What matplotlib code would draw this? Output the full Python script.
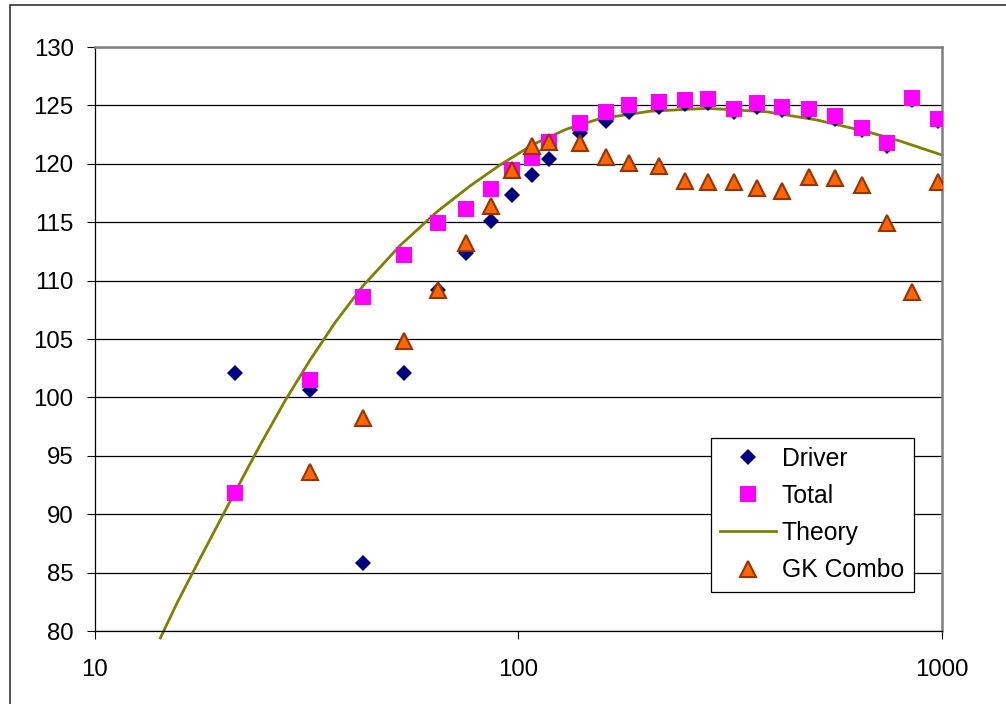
import matplotlib
matplotlib.use('Agg')
import matplotlib.pyplot as plt
from matplotlib.patches import Rectangle
from matplotlib.ticker import NullLocator

# ---- data ----
freq = [21.5, 32.3, 43.1, 53.8, 64.6, 75.4, 86.1, 96.9, 107.7, 118.4,
        140.0, 161.5, 183.0, 215.3, 247.6, 279.9, 323.0, 366.1, 419.9,
        484.5, 559.8, 645.9, 742.9, 850.5, 979.7]
driver = [102.1, 100.6, 85.8, 102.1, 109.2, 112.4, 115.1, 117.3, 119.0, 120.4,
          122.6, 123.7, 124.4, 124.9, 125.1, 125.2, 124.4, 124.9, 124.6,
          124.4, 123.8, 122.9, 121.5, 125.5, 123.7]
total = [91.8, 101.5, 108.6, 112.2, 114.9, 116.1, 117.8, 119.5, 120.5, 121.9,
         123.5, 124.4, 125.0, 125.3, 125.5, 125.55, 124.7, 125.2, 124.9,
         124.7, 124.1, 123.1, 121.8, 125.6, 123.8]
gk_freq = freq[1:]
gk_combo = [93.6, 98.2, 104.8, 109.2, 113.2, 116.4, 119.5, 121.5, 121.9,
            121.8, 120.6, 120.1, 119.8, 118.5, 118.4, 118.4, 117.9, 117.7,
            118.9, 118.8, 118.2, 114.9, 109.0, 118.4]
theory_freq = [14.3, 15.66, 17.74, 21.46, 24.58, 28.15, 32.26, 36.95, 43.02,
               52.6, 64.32, 76.93, 90.56, 108.3, 129.6, 155.9, 204.6, 278.9,
               386.5, 507.0, 665.3, 795.8, 1000.0]
theory = [79.4, 82.4, 86.2, 91.9, 95.9, 99.7, 103.2, 106.4, 109.55,
          113.0, 115.9, 118.1, 119.9, 121.65, 122.95, 123.87, 124.5, 124.75,
          124.45, 123.75, 122.75, 121.95, 120.75]

y_ticks = [80, 85, 90, 95, 100, 105, 110, 115, 120, 125, 130]
x_ticks = [10, 100, 1000]
x_tick_labels = ['10', '100', '1000']

plt.rcParams['font.family'] = ['Liberation Sans', 'DejaVu Sans']

W, H = 1006, 704
fig = plt.figure(figsize=(W / 100, H / 100), dpi=100)
fig.patch.set_facecolor('white')

# figure border (partially cropped)
fig.patches.append(Rectangle((10 / W, -0.2), 1.5, 1.2 - 5 / H,
                             transform=fig.transFigure, fill=False,
                             edgecolor='#333333', lw=1.2))

left, right, top, bottom = 94.5, 942, 47, 631
ax = fig.add_axes([left / W, 1 - bottom / H, (right - left) / W, (bottom - top) / H])
ax.set_xscale('log')
ax.set_xlim(10, 1000)
ax.set_ylim(80, 130)

ax.set_yticks(y_ticks)
ax.set_xticks(x_ticks)
ax.set_xticklabels(x_tick_labels)
ax.xaxis.set_minor_locator(NullLocator())
ax.grid(axis='y', color='black', lw=0.9)
ax.set_axisbelow(True)

ax.tick_params(axis='both', which='major', direction='out', length=6,
               width=0.8, color='black', labelsize=17.3)
ax.tick_params(axis='y', pad=9)
ax.tick_params(axis='x', pad=14)

for s in ['top', 'right']:
    ax.spines[s].set_color('#808080')
    ax.spines[s].set_linewidth(1.8)
for s in ['left', 'bottom']:
    ax.spines[s].set_color('black')
    ax.spines[s].set_linewidth(0.9)

ax.plot(freq, driver, linestyle='none', marker='D', markersize=8.6,
        color='#000080', markeredgewidth=0, label='Driver', zorder=3)
ax.plot(freq, total, linestyle='none', marker='s', markersize=11.5,
        color='#FF00FF', markeredgewidth=0, label='Total', zorder=4)
ax.plot(theory_freq, theory, color='#808000', lw=2.0, label='Theory',
        zorder=2, clip_on=False, solid_joinstyle='round')
ax.plot(gk_freq, gk_combo, linestyle='none', marker='^', markersize=12,
        markerfacecolor='#FF6600', markeredgecolor='#993300',
        markeredgewidth=1.5, label='GK Combo', zorder=5)

leg = ax.legend(loc='upper left', bbox_to_anchor=(710.5 / W, 1 - 437.5 / H),
                bbox_transform=fig.transFigure, borderaxespad=0,
                fontsize=17.8, numpoints=1, frameon=True, fancybox=False,
                framealpha=1, edgecolor='black', borderpad=0.38,
                handlelength=2.27, handletextpad=0.24, labelspacing=0.53)
leg.get_frame().set_linewidth(0.9)

fig.savefig('out.png', dpi=100)
